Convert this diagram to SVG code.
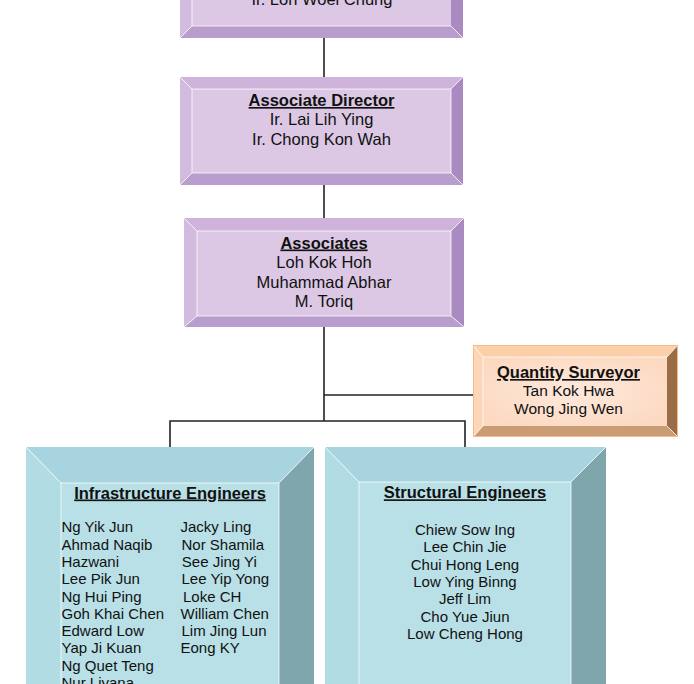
<svg xmlns="http://www.w3.org/2000/svg" width="694" height="684" viewBox="0 0 694 684">
<defs>
<radialGradient id="qsFace" cx="0.5" cy="0.5" r="0.6">
<stop offset="0" stop-color="#fee9dc"/>
<stop offset="1" stop-color="#fcd9c1"/>
</radialGradient>
<style>
text{font-family:"Liberation Sans",Arial,sans-serif;fill:#111;}
.t{font-size:16.5px;font-weight:bold;text-decoration:underline;text-anchor:middle;}
.n{font-size:16.5px;text-anchor:middle;}
.s{font-size:15px;}
.c{text-anchor:middle;}
.q{font-size:15.5px;text-anchor:middle;}
.edge{fill:none;stroke:#ffffff;stroke-opacity:0.75;stroke-width:1;}
.p-top{fill:#cfb3da;}.p-left{fill:#d3bbdf;}.p-right{fill:#a98bc1;}.p-bot{fill:#b99dcc;}.p-face{fill:#dcc8e4;}
.b-top{fill:#a7d4de;}.b-left{fill:#b2dce4;}.b-right{fill:#7fa6ad;}.b-bot{fill:#93bcc4;}.b-face{fill:#b9e0e7;}
.o-top{fill:#fbcfa8;}.o-left{fill:#fcd6b6;}.o-right{fill:#9b6d47;}.o-bot{fill:#c99c74;}
.ln{fill:none;stroke:#222;stroke-width:1.6;}
</style>
</defs>
<g id="connectors">
<line class="ln" x1="324" y1="38" x2="324" y2="77"/>
<line class="ln" x1="324" y1="185" x2="324" y2="218"/>
<line class="ln" x1="324" y1="327" x2="324" y2="421"/>
<line class="ln" x1="324" y1="395" x2="474" y2="395"/>
<polyline class="ln" points="170,447 170,421 465,421 465,447"/>
</g>
<g id="director">
<polygon class="p-top" points="180,-60 463,-60 451,-48 192,-48"/>
<polygon class="p-left" points="180,-60 192,-48 192,26 180,38"/>
<polygon class="p-right" points="463,-60 463,38 451,26 451,-48"/>
<polygon class="p-bot" points="180,38 192,26 451,26 463,38"/>
<rect class="p-face" x="192" y="-48" width="259" height="74"/>
<path class="edge" d="M192,-48V26H451M180,38L192,26M451,26L463,38"/>
<text class="n" x="322" y="4.5">Ir. Loh Woei Chung</text>
</g>
<g id="associate-director">
<polygon class="p-top" points="180,77 463,77 451,89 192,89"/>
<polygon class="p-left" points="180,77 192,89 192,173 180,185"/>
<polygon class="p-right" points="463,77 463,185 451,173 451,89"/>
<polygon class="p-bot" points="180,185 192,173 451,173 463,185"/>
<rect class="p-face" x="192" y="89" width="259" height="84"/>
<path class="edge" d="M192,173V89H451M180,77L192,89M451,89L463,77M180,185L192,173M451,173L463,185"/>
<path class="edge" d="M192,173H451V89" stroke-opacity="0.5"/>
<text class="t" x="321.5" y="106">Associate Director</text>
<text class="n" x="321.5" y="125">Ir. Lai Lih Ying</text>
<text class="n" x="321.5" y="144.5">Ir. Chong Kon Wah</text>
</g>
<g id="associates">
<polygon class="p-top" points="184,218 464,218 451,231 197,231"/>
<polygon class="p-left" points="184,218 197,231 197,316 184,327"/>
<polygon class="p-right" points="464,218 464,327 451,316 451,231"/>
<polygon class="p-bot" points="184,327 197,316 451,316 464,327"/>
<rect class="p-face" x="197" y="231" width="254" height="85"/>
<path class="edge" d="M197,316V231H451V316H197M184,218L197,231M451,231L464,218M184,327L197,316M451,316L464,327"/>
<text class="t" x="324" y="248.5">Associates</text>
<text class="n" x="324" y="268">Loh Kok Hoh</text>
<text class="n" x="324" y="287.5">Muhammad Abhar</text>
<text class="n" x="324" y="307">M. Toriq</text>
</g>
<g id="quantity-surveyor">
<polygon class="o-top" points="473,345 678,345 667,357 483,357"/>
<polygon class="o-left" points="473,345 483,357 483,426 473,437"/>
<polygon class="o-right" points="678,345 678,437 667,426 667,357"/>
<polygon class="o-bot" points="473,437 483,426 667,426 678,437"/>
<rect x="483" y="357" width="184" height="69" fill="url(#qsFace)"/>
<path class="edge" d="M483,426V357H667M473,345L483,357M667,357L678,345M473,437L483,426M667,426L678,437"/>
<rect x="473.5" y="345.5" width="204" height="91" fill="none" stroke="#f6b98a" stroke-width="1"/>
<text class="t" x="568.5" y="378">Quantity Surveyor</text>
<text class="q" x="568.5" y="395.5">Tan Kok Hwa</text>
<text class="q" x="568.5" y="413.5">Wong Jing Wen</text>
</g>
<g id="infrastructure-engineers">
<polygon class="b-top" points="26,447 314,447 279,483 61,483"/>
<polygon class="b-left" points="26,447 61,483 61,725 26,760"/>
<polygon class="b-right" points="314,447 314,760 279,725 279,483"/>
<rect class="b-face" x="61" y="483" width="218" height="242"/>
<path class="edge" d="M61,700V483H279V700M26,447L61,483M279,483L314,447"/>
<text class="t" x="170" y="498.5">Infrastructure Engineers</text>
<g class="s">
<text x="61.5" y="532.3">Ng Yik Jun</text>
<text x="61.5" y="549.6">Ahmad Naqib</text>
<text x="61.5" y="566.9">Hazwani</text>
<text x="61.5" y="584.2">Lee Pik Jun</text>
<text x="61.5" y="601.5">Ng Hui Ping</text>
<text x="61.5" y="618.8">Goh Khai Chen</text>
<text x="61.5" y="636.1">Edward Low</text>
<text x="61.5" y="653.4">Yap Ji Kuan</text>
<text x="61.5" y="670.7">Ng Quet Teng</text>
<text x="61.5" y="688">Nur Liyana</text>
<text x="180.5" y="532.3">Jacky Ling</text>
<text x="181.5" y="549.6">Nor Shamila</text>
<text x="181.8" y="566.9">See Jing Yi</text>
<text x="181.5" y="584.2">Lee Yip Yong</text>
<text x="183" y="601.5">Loke CH</text>
<text x="180.5" y="618.8">William Chen</text>
<text x="181.5" y="636.1">Lim Jing Lun</text>
<text x="180.5" y="653.4">Eong KY</text>
</g>
</g>
<g id="structural-engineers">
<polygon class="b-top" points="325,447 606,447 571,482 359,482"/>
<polygon class="b-left" points="325,447 359,482 359,725 325,760"/>
<polygon class="b-right" points="606,447 606,760 571,725 571,482"/>
<rect class="b-face" x="359" y="482" width="212" height="243"/>
<path class="edge" d="M359,700V482H571V700M325,447L359,482M571,482L606,447"/>
<text class="t" x="465" y="498.3">Structural Engineers</text>
<g class="s c">
<text x="465" y="535">Chiew Sow Ing</text>
<text x="465" y="552.3">Lee Chin Jie</text>
<text x="465" y="569.6">Chui Hong Leng</text>
<text x="465" y="586.9">Low Ying Binng</text>
<text x="465" y="604.2">Jeff Lim</text>
<text x="465" y="621.5">Cho Yue Jiun</text>
<text x="465" y="638.8">Low Cheng Hong</text>
</g>
</g>
</svg>
